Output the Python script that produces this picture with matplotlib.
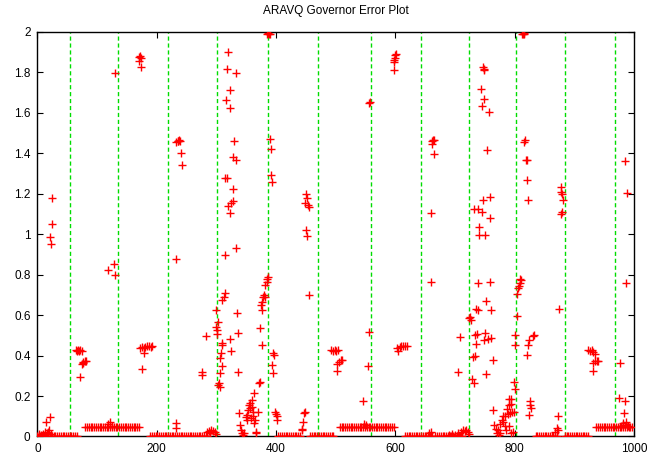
import numpy as np
import matplotlib
matplotlib.use('Agg')
import matplotlib.pyplot as plt
from matplotlib import rcParams

rcParams['font.family'] = 'Liberation Sans'
rcParams['font.size'] = 8.5

# governor boundaries (green dashed lines)
boundaries = [54.5, 135.5, 219.3, 301.4, 386.9, 470.7, 559.1, 642.9, 723.9, 802.2, 884.8, 968.6]

# error ~0 stretches
floor_x = [0, 2, 4, 7, 9, 12, 15, 18, 21, 24, 27, 30, 33, 36, 39, 42, 45, 48, 51, 54, 57, 60, 63, 66,
           189, 192, 195, 198, 201, 204, 207, 210, 213, 216, 219, 222, 225, 228, 231, 234, 237, 240,
           243, 246, 249, 252, 255, 258, 261, 264, 267, 270, 273, 276, 279, 282, 285,
           404, 407, 410, 413, 416, 419, 422, 425, 428, 431, 434, 437, 440,
           457, 460, 463, 466, 469, 472, 475, 478, 481, 484, 487, 490, 493, 496,
           616, 619, 622, 625, 628, 631, 634, 637, 640, 643, 646, 649, 652, 655, 658, 661,
           667, 670, 673, 676, 679, 682, 685, 688, 691, 694, 697, 700, 703, 706, 709, 712,
           835, 838, 841, 844, 847, 850, 853, 856, 859, 862, 865, 868, 871,
           884, 887, 890, 893, 896, 899, 902, 905, 908, 911, 914, 917, 920, 923]
floor_level = 0.0

# error ~0.045 stretches
shelf_x = [80, 83, 86, 89, 92, 95, 98, 101, 104, 107, 110, 113, 116, 119, 122, 125, 128, 131,
           134, 137, 140, 143, 146, 149, 152, 155, 158, 161, 164, 167, 170,
           507, 510, 513, 516, 519, 522, 525, 528, 531, 534, 537, 540, 543, 546, 549, 552, 555,
           558, 561, 564, 567, 570, 573, 576, 579, 582, 585, 588, 591, 594, 597,
           937, 940, 943, 946, 949, 952, 955, 958, 961, 964, 967, 970, 973, 976, 979, 982, 985,
           988, 991, 994, 997]
shelf_level = 0.045

# mid-level clusters
cluster_x = [64, 66, 68, 70, 72, 74, 75, 77, 79, 81, 76, 72,
             172, 175, 178, 181, 184, 187, 190, 192, 178, 176,
             492, 495, 498, 501, 504, 502, 505, 508, 511, 502,
             602, 605, 607, 610, 613, 616, 619,
             923, 926, 929, 932, 934, 932, 935, 938, 940, 932]
cluster_y = [0.428, 0.425, 0.428, 0.425, 0.428, 0.422, 0.36, 0.368, 0.372, 0.372, 0.365, 0.296,
             0.438, 0.44, 0.436, 0.444, 0.446, 0.446, 0.444, 0.446, 0.414, 0.332,
             0.428, 0.425, 0.428, 0.425, 0.428, 0.36, 0.37, 0.376, 0.376, 0.326,
             0.438, 0.423, 0.444, 0.447, 0.447, 0.446, 0.446,
             0.428, 0.425, 0.428, 0.42, 0.41, 0.365, 0.372, 0.375, 0.375, 0.326]

# scattered errors, first half
scatter1_x = [3, 6, 9, 12, 14, 16, 18, 20, 21, 22, 21, 23, 24, 24,
              119, 128, 130, 130, 121, 125, 118,
              170, 172, 174, 171, 173,
              233, 235, 236, 238, 239, 240, 242, 233, 232, 232,
              275, 275, 283, 285, 288, 291, 294, 297, 299, 289,
              299, 301, 300, 301, 303, 306, 307, 309, 310, 304, 306, 303, 306, 309, 310, 312, 314, 314,
              323, 324, 334, 336, 336, 333,
              319, 317, 332, 322, 316, 323, 330, 328, 333, 315, 318, 327, 327, 325, 320, 322,
              337, 339, 341, 343, 345, 347, 351, 352, 353, 355, 357, 359, 360, 361, 363, 364, 363,
              366, 367, 370, 372, 373, 349, 356, 358, 362,
              373, 374, 376, 377, 378, 381, 379, 382, 384, 385, 386, 376,
              384, 386, 388, 390, 390, 392, 391, 393,
              394, 396, 393, 394, 398, 400, 401, 402,
              443, 445, 447, 448, 450, 451, 455, 450, 451, 448, 453, 455, 444]
scatter1_y = [0.01, 0.005, 0.012, 0.02, 0.071, 0.015, 0.021, 0.03, 0.095, 0.01, 0.987, 0.951, 1.05, 1.178,
              0.822, 0.855, 0.798, 1.797, 0.071, 0.05, 0.06,
              1.875, 1.88, 1.87, 1.855, 1.825,
              1.455, 1.46, 1.459, 1.467, 1.462, 1.404, 1.34, 0.877, 0.066, 0.041,
              0.304, 0.321, 0.497, 0.02, 0.025, 0.03, 0.028, 0.02, 0.01, 0.015,
              0.543, 0.526, 0.625, 0.505, 0.567, 0.387, 0.411, 0.452, 0.46, 0.263, 0.247, 0.255, 0.316, 0.349,
              0.674, 0.691, 0.707, 0.896,
              0.482, 0.423, 0.609, 0.51, 0.321, 0.934,
              1.901, 1.817, 1.795, 1.715, 1.665, 1.624, 1.459, 1.384, 1.368, 1.277, 1.28, 1.226, 1.165,
              1.155, 1.139, 1.104,
              0.115, 0.058, 0.033, 0.016, 0.008, 0.016, 0.082, 0.107, 0.132, 0.156, 0.164, 0.181, 0.148,
              0.123, 0.214, 0.082, 0.066, 0.016, 0.02, 0.123, 0.266, 0.271, 0.098, 0.14, 0.09, 0.1,
              0.535, 0.65, 0.625, 0.666, 0.691, 0.688, 0.699, 0.748, 0.765, 0.781, 0.789, 0.452,
              1.99, 1.995, 1.99, 1.992, 1.472, 1.422, 1.294, 1.257,
              0.411, 0.403, 0.354, 0.313, 0.123, 0.112, 0.099, 0.082,
              0.036, 0.074, 0.115, 0.123, 1.02, 0.99, 0.699, 1.198, 1.178, 1.155, 1.146, 1.134, 0.03]

# scattered errors, second half
scatter2_x = [546, 554, 555, 556, 557, 548, 551,
              599, 600, 598, 601, 598, 597,
              659, 659, 663, 665, 661, 662, 664, 657, 660,
              690, 695, 700, 705, 710, 713, 716, 719, 722, 724, 705, 709,
              723, 725, 727, 730, 733, 729, 732, 733, 736, 735, 735, 739, 739, 741, 741, 751, 748, 751,
              755, 752, 759, 761, 761, 763, 752, 763,
              747, 748, 749, 743, 748, 745, 757, 754, 758, 747, 739, 745, 758, 731,
              765, 768, 770, 773, 775, 778, 781, 784, 787, 790, 793, 792, 796, 784, 790, 793, 797, 799,
              793, 790, 772, 776, 780, 786, 788,
              798, 800, 801, 801, 804, 804, 806, 807, 809, 811, 809,
              813, 814, 815, 816, 818, 816, 819, 820, 820, 822,
              822, 824, 821, 825, 826, 827, 824, 830, 832,
              873, 874, 871, 868, 872, 878, 877, 879, 881, 877, 879,
              976, 975, 985, 983, 986, 987, 981, 982, 985, 988, 978, 990]
scatter2_y = [0.173, 0.349, 0.518, 1.649, 1.652, 0.06, 0.055,
              1.884, 1.873, 1.863, 1.889, 1.851, 1.81,
              0.765, 1.106, 1.464, 1.467, 1.444, 1.46, 1.398, 0.015, 0.02,
              0.005, 0.01, 0.008, 0.015, 0.02, 0.03, 0.025, 0.03, 0.02, 0.01, 0.321, 0.493,
              0.584, 0.592, 0.576, 0.391, 0.398, 0.283, 0.263, 0.502, 0.507, 0.457, 0.628, 0.625, 0.757,
              1.036, 0.995, 0.995, 0.477, 0.513,
              0.48, 0.671, 0.765, 0.625, 0.485, 0.378, 0.308, 0.132,
              1.827, 1.81, 1.818, 1.716, 1.67, 1.634, 1.604, 1.417, 1.186, 1.169, 1.125, 1.112, 1.081, 1.125,
              0.058, 0.036, 0.016, 0.008, 0.016, 0.082, 0.074, 0.099, 0.135, 0.156, 0.161, 0.115, 0.123,
              0.05, 0.053, 0.016, 0.02, 0.123, 0.184, 0.183, 0.03, 0.06, 0.1, 0.03, 0.11,
              0.268, 0.234, 0.452, 0.502, 0.597, 0.704, 0.732, 0.743, 0.76, 0.773, 0.781,
              1.992, 1.988, 1.995, 1.99, 1.467, 1.455, 1.368, 1.365, 1.27, 1.167,
              0.452, 0.477, 0.403, 0.173, 0.156, 0.14, 0.107, 0.497, 0.502,
              0.099, 0.63, 0.04, 0.02, 0.03, 1.233, 1.208, 1.2, 1.167, 1.10, 1.109,
              0.365, 0.192, 0.173, 0.115, 0.074, 0.757, 0.069, 0.058, 1.361, 1.204, 0.05, 0.05]

fig = plt.figure(figsize=(6.68, 4.57), dpi=100)
ax = fig.add_axes([0.0561, 0.0449, 0.8930, 0.8851])

for b in boundaries:
    ax.axvline(b, color='#00dd00', linewidth=1.0, linestyle=(0, (3, 2)), zorder=1)

mk = dict(linestyle='none', marker='+', color='#ff0000', markersize=5.5, markeredgewidth=1.0, zorder=3)
ax.plot(floor_x, [floor_level] * len(floor_x), **mk)
ax.plot(shelf_x, [shelf_level] * len(shelf_x), **mk)
ax.plot(cluster_x, cluster_y, **mk)
ax.plot(scatter1_x, scatter1_y, **mk)
ax.plot(scatter2_x, scatter2_y, **mk)

ax.set_xlim(0, 1000)
ax.set_ylim(0, 2)
ax.set_xticks([0, 200, 400, 600, 800, 1000])
ax.set_yticks([0, 0.2, 0.4, 0.6, 0.8, 1, 1.2, 1.4, 1.6, 1.8, 2])
ax.set_yticklabels(['0', '0.2', '0.4', '0.6', '0.8', '1', '1.2', '1.4', '1.6', '1.8', '2'])
ax.tick_params(direction='in', length=4, width=0.8, top=True, right=True, pad=5)
for s in ax.spines.values():
    s.set_linewidth(1.0)

ax.set_title('ARAVQ Governor Error Plot', fontsize=8.5, pad=13)

fig.savefig('out.png', dpi=100)
